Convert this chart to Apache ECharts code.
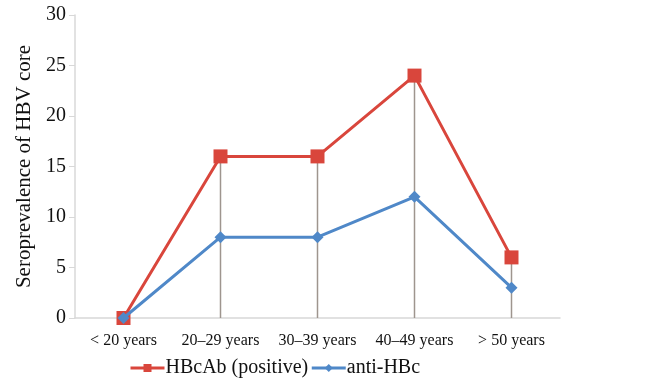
<!DOCTYPE html>
<html>
<head>
<meta charset="utf-8">
<script src="https://cdn.jsdelivr.net/npm/echarts@6/dist/echarts.min.js"></script>
<style>
  html, body { margin: 0; padding: 0; background: #ffffff; }
  #chart { width: 660px; height: 382px; }
</style>
</head>
<body>
<div id="chart"></div>
<script>
// Age groups and seroprevalence values
const categories = ['< 20 years', '20\u201329 years', '30\u201339 years', '40\u201349 years', '> 50 years'];
const hbcabPositive = [0, 16, 16, 24, 6];
const antiHBc = [0, 8, 8, 12, 3];
const yTicks = { min: 0, max: 30, interval: 5 };

// Drop line height for each group: the higher of the two series
const dropLines = categories.map((_, i) => Math.max(hbcabPositive[i], antiHBc[i]));

const serif = 'Liberation Serif, Times New Roman, serif';
const chart = echarts.init(document.getElementById('chart'), null, { renderer: 'canvas' });

chart.setOption({
  animation: false,
  backgroundColor: '#ffffff',
  grid: { left: 75, right: 100, top: 15, bottom: 64, containLabel: false },
  legend: {
    top: 358,
    left: 129,
    padding: 0,
    itemGap: 2,
    itemWidth: 34,
    itemHeight: 10,
    lineStyle: { width: 3 },
    textStyle: { fontFamily: serif, fontSize: 20, color: '#111', padding: [0, 0, 0, -4] },
    data: ['HBcAb (positive)', 'anti-HBc']
  },
  xAxis: {
    type: 'category',
    data: categories,
    boundaryGap: true,
    axisLine: { lineStyle: { color: '#d8d8d8', width: 1.5 } },
    axisTick: { show: false },
    axisLabel: { fontFamily: serif, fontSize: 16, color: '#111', margin: 15, interval: 0 }
  },
  yAxis: {
    type: 'value',
    min: yTicks.min,
    max: yTicks.max,
    interval: yTicks.interval,
    name: 'Seroprevalence of HBV core',
    nameLocation: 'middle',
    nameGap: 40,
    nameTextStyle: { fontFamily: serif, fontSize: 21, color: '#111' },
    axisLine: { show: true, lineStyle: { color: '#d8d8d8', width: 1.5 } },
    axisTick: { show: true, length: 6, lineStyle: { color: '#d8d8d8' } },
    axisLabel: { fontFamily: serif, fontSize: 20, color: '#111', margin: 9 },
    splitLine: { show: false }
  },
  series: [
    {
      name: 'drop',
      type: 'bar',
      data: dropLines,
      barWidth: 1.5,
      itemStyle: { color: '#9e958e' },
      silent: true,
      z: 1
    },
    {
      name: 'HBcAb (positive)',
      type: 'line',
      data: hbcabPositive,
      symbol: 'rect',
      symbolSize: 14,
      lineStyle: { color: '#d9463c', width: 3 },
      itemStyle: { color: '#d9463c' },
      z: 3
    },
    {
      name: 'anti-HBc',
      type: 'line',
      data: antiHBc,
      symbol: 'diamond',
      symbolSize: 12,
      lineStyle: { color: '#4f88c8', width: 3 },
      itemStyle: { color: '#4f88c8' },
      z: 4
    }
  ]
});
</script>
</body>
</html>
